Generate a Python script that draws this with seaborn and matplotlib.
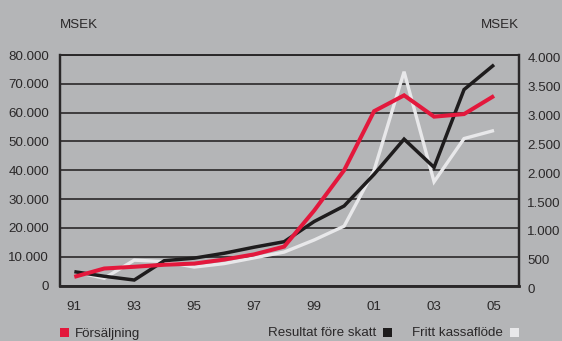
import matplotlib
matplotlib.use("Agg")
import matplotlib.pyplot as plt
from matplotlib.patches import Rectangle
from matplotlib.transforms import ScaledTranslation
import pandas as pd
import seaborn as sns

# Yearly figures, MSEK
years = list(range(1991, 2006))
forsaljning = [3000, 5900, 6500, 7200, 7600, 9000, 10800, 13500,
               26000, 40000, 60500, 66000, 58600, 59500, 65800]
resultat = [240, 160, 95, 430, 475, 560, 665, 760,
            1110, 1380, 1930, 2540, 2050, 3400, 3830]
kassaflode = [240, 125, 440, 415, 320, 380, 480, 580,
              790, 1030, 2000, 3710, 1800, 2550, 2690]

xtick_years = [1991, 1993, 1995, 1997, 1999, 2001, 2003, 2005]
xtick_labels = ["91", "93", "95", "97", "99", "01", "03", "05"]
left_ticks = [0, 10000, 20000, 30000, 40000, 50000, 60000, 70000, 80000]
left_labels = ["0", "10.000", "20.000", "30.000", "40.000", "50.000",
               "60.000", "70.000", "80.000"]
right_ticks = [0, 500, 1000, 1500, 2000, 2500, 3000, 3500, 4000]
right_labels = ["0", "500", "1.000", "1.500", "2.000", "2.500",
                "3.000", "3.500", "4.000"]

legend_names = ["Försäljning", "Resultat före skatt", "Fritt kassaflöde"]

df = pd.DataFrame({"year": years, "forsaljning": forsaljning,
                   "resultat": resultat, "kassaflode": kassaflode})

BG = "#b4b5b7"
RED = "#e3183c"
BLACK = "#1e1c1d"
WHITE = "#e8e8ea"
INK = "#2a2829"
FS = 9.6

sns.set_theme(style="white")
plt.rcParams["font.family"] = ["Liberation Sans", "DejaVu Sans"]

W, H = 562, 341
fig = plt.figure(figsize=(W / 100, H / 100), dpi=100, facecolor=BG)
ax = fig.add_axes([60 / W, 1 - 285.5 / H, (519 - 60) / W, (285.5 - 55) / H])
ax.set_facecolor(BG)

# Profit and cash flow on the 0-4000 scale (labels on the right)
line_kw = dict(solid_joinstyle="miter", solid_capstyle="butt")
sns.lineplot(data=df, x="year", y="kassaflode", color=WHITE, lw=2.4,
             ax=ax, **line_kw)
sns.lineplot(data=df, x="year", y="resultat", color=BLACK, lw=2.5,
             ax=ax, **line_kw)
ax.set_ylim(0, 4000)
ax.set_xlim(1990.523, 2005.833)
ax.set_yticks(right_ticks)
ax.grid(axis="y", color=INK, lw=1.2)
ax.grid(axis="x", visible=False)
ax.set_axisbelow(True)

# Sales on the 0-80000 scale (labels on the left)
ax2 = ax.twinx()
sns.lineplot(data=df, x="year", y="forsaljning", color=RED, lw=2.9,
             ax=ax2, **line_kw)
ax2.set_ylim(0, 80000)
ax2.set_yticks(left_ticks)
ax2.set_yticklabels(left_labels)
ax2.yaxis.tick_left()
ax2.grid(False)

ax.yaxis.tick_right()
ax.set_yticks(right_ticks)
ax.set_yticklabels(right_labels)
ax.set_xticks(xtick_years)
ax.set_xticklabels(xtick_labels)

for a in (ax, ax2):
    a.set_xlabel("")
    a.set_ylabel("")
    for s in a.spines.values():
        s.set_color(INK)
    a.spines["top"].set_linewidth(1.2)
    a.spines["left"].set_linewidth(1.6)
    a.spines["right"].set_linewidth(1.6)
    a.spines["bottom"].set_linewidth(1.8)

ax.tick_params(axis="x", length=0, pad=11, labelsize=FS, labelcolor=INK)
ax.tick_params(axis="y", length=0, pad=6, labelsize=FS, labelcolor=INK)
ax2.tick_params(axis="y", length=0, pad=8, labelsize=FS, labelcolor=INK)

shift = ScaledTranslation(0, -3 / 100, fig.dpi_scale_trans)
for lab in ax.get_yticklabels():
    lab.set_transform(lab.get_transform() + shift)

# Unit captions
fig.text(60 / W, 1 - 28.5 / H, "MSEK", ha="left", va="baseline",
         fontsize=FS, color=INK)
fig.text(519 / W, 1 - 28.5 / H, "MSEK", ha="right", va="baseline",
         fontsize=FS, color=INK)

# Legend row along the bottom edge
base = 1 - 336.5 / H
sq = 9
for x0, col in [(60, RED), (383, BLACK), (510, WHITE)]:
    fig.patches.append(Rectangle((x0 / W, 1 - 337 / H), sq / W, sq / H,
                                 transform=fig.transFigure, color=col,
                                 lw=0))
fig.text(74.5 / W, base, legend_names[0], ha="left", va="baseline",
         fontsize=FS, color=INK)
fig.text(376 / W, base, legend_names[1], ha="right", va="baseline",
         fontsize=FS, color=INK)
fig.text(502.5 / W, base, legend_names[2], ha="right", va="baseline",
         fontsize=FS, color=INK)

fig.savefig("out.png", dpi=100, facecolor=BG)
